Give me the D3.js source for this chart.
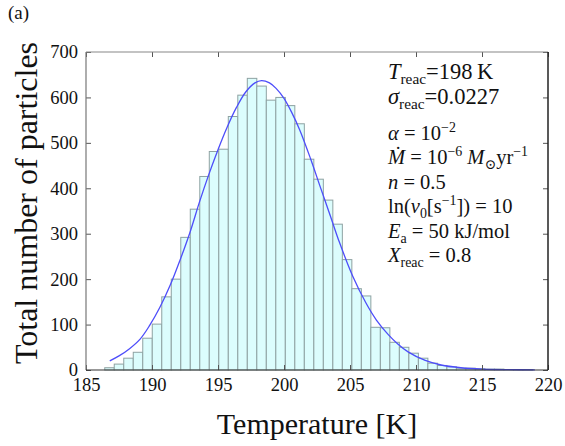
<!DOCTYPE html>
<html><head><meta charset="utf-8">
<script src="https://cdn.jsdelivr.net/npm/d3@7"></script>
<style>body{margin:0;background:#fff}svg{display:block}text{font-family:"Liberation Serif","Tinos","Times New Roman","DejaVu Serif",serif}</style>
</head><body><svg id="c" width="565" height="446"></svg>
<script>
// ---- data ----
const binStart = 186.42;
const binWidth = 0.72;
const counts = [5, 13, 26, 39, 70, 101, 161, 200, 292, 354, 426, 481, 486, 558, 605,
  642, 625, 594, 600, 582, 542, 464, 420, 374, 321, 243, 179, 163, 94, 93,
  61, 50, 37, 26, 15, 10, 7, 4, 4, 3, 2, 2, 1, 1, 1];
const curveT = [186.8, 187.5, 188.3, 189.1, 189.8, 190.6, 191.4, 192.1, 192.9, 193.6, 194.3,
  195.0, 195.7, 196.4, 197.1, 197.8, 198.3, 198.9, 199.4, 200.0, 200.6, 201.2, 202.0, 202.7,
  203.5, 204.2, 205.2, 206.2, 207.0, 207.9, 208.6, 209.4, 210.7, 211.9, 213.4, 215.0, 217.0, 219.0];
const curveV = [20, 31, 47, 68, 97, 138, 188, 240, 305, 370, 430,
  485, 535, 578, 612, 632, 637, 632, 620, 598, 566, 528, 466, 407,
  340, 281, 207, 148, 110, 78, 58, 40, 21, 11, 5, 2, 0.8, 0.3];
const xTicks = [185, 190, 195, 200, 205, 210, 215, 220];
const yTicks = [0, 100, 200, 300, 400, 500, 600, 700];

// ---- layout ----
const svg = d3.select("#c");
const L = 86, R = 548, T = 52, B = 370;
const serif = "Liberation Serif, Tinos, Times New Roman, DejaVu Serif, serif";
const x = d3.scaleLinear().domain([185, 220]).range([L, R]);
const y = d3.scaleLinear().domain([0, 700]).range([B, T]);

// bars
svg.append("g").selectAll("rect").data(counts).join("rect")
  .attr("x", (d, i) => x(binStart + i * binWidth))
  .attr("width", (d, i) => x(binStart + (i + 1) * binWidth) - x(binStart + i * binWidth))
  .attr("y", d => y(d))
  .attr("height", d => y(0) - y(d))
  .attr("fill", "#dcfdfd")
  .attr("stroke", "#8ea2a2")
  .attr("stroke-width", 1);

// curve
const pts = curveT.map((t, i) => [t, curveV[i]]);
svg.append("path").datum(pts)
  .attr("d", d3.line().x(d => x(d[0])).y(d => y(d[1])).curve(d3.curveCatmullRom.alpha(0.5)))
  .attr("fill", "none").attr("stroke", "#4d4dfa").attr("stroke-width", 1.3);

// axes
function styleAxis(g, labels) {
  g.attr("font-family", serif);
  g.select(".domain").remove();
  g.selectAll(".tick line").attr("stroke", "#555");
  g.selectAll("text").attr("font-family", serif).attr("font-size", 18.5).attr("fill", "#111");
  if (!labels) g.selectAll("text").remove();
}
svg.append("g").attr("transform", `translate(0,${B})`)
  .call(d3.axisBottom(x).tickValues(xTicks).tickSizeInner(-5).tickSizeOuter(0).tickPadding(8).tickFormat(d3.format("d")))
  .call(g => styleAxis(g, true));
svg.append("g").attr("transform", `translate(0,${T})`)
  .call(d3.axisTop(x).tickValues(xTicks).tickSizeInner(-5).tickSizeOuter(0))
  .call(g => styleAxis(g, false));
svg.append("g").attr("transform", `translate(${L},0)`)
  .call(d3.axisLeft(y).tickValues(yTicks).tickSizeInner(-5).tickSizeOuter(0).tickPadding(8).tickFormat(d3.format("d")))
  .call(g => styleAxis(g, true));
svg.append("g").attr("transform", `translate(${R},0)`)
  .call(d3.axisRight(y).tickValues(yTicks).tickSizeInner(-5).tickSizeOuter(0))
  .call(g => styleAxis(g, false));

// box
svg.append("line").attr("x1", L).attr("x2", R).attr("y1", T).attr("y2", T).attr("stroke", "#888").attr("stroke-width", 1.2);
svg.append("line").attr("x1", L).attr("x2", L).attr("y1", T).attr("y2", B).attr("stroke", "#777").attr("stroke-width", 1.2);
svg.append("line").attr("x1", L).attr("x2", R).attr("y1", B).attr("y2", B).attr("stroke", "#333").attr("stroke-width", 1.2);
svg.append("line").attr("x1", R).attr("x2", R).attr("y1", T).attr("y2", B).attr("stroke", "#222").attr("stroke-width", 1.5);

// titles
svg.append("text").attr("x", (L + R) / 2).attr("y", 434).attr("text-anchor", "middle")
  .attr("font-family", serif).attr("font-size", 30).attr("fill", "#111").text("Temperature [K]");
svg.append("text").attr("transform", `translate(37,${(T + B) / 2 - 8}) rotate(-90)`).attr("text-anchor", "middle")
  .attr("font-family", serif).attr("font-size", 32).attr("fill", "#111").text("Total number of particles");
svg.append("text").attr("x", 8).attr("y", 19).attr("font-family", serif).attr("font-size", 19)
  .attr("fill", "#111").text("(a)");

// annotations
function rich(xp, yp, size, parts) {
  const t = svg.append("text").attr("x", xp).attr("y", yp).attr("font-family", serif)
    .attr("font-size", size).attr("fill", "#111");
  let shift = 0;
  parts.forEach(p => {
    const s = t.append("tspan").text(p.t);
    let target = 0, fs = size;
    if (p.sub) { target = size * 0.22; fs = size * 0.68; }
    if (p.sup) { target = -size * 0.38; fs = size * 0.68; }
    s.attr("dy", target - shift).attr("font-size", fs);
    shift = target;
    if (p.i) s.attr("font-style", "italic");
  });
}
rich(388, 79, 22.5, [{t: "T", i: 1}, {t: "reac", sub: 1}, {t: "=198\u2009K"}]);
rich(388, 104, 22.5, [{t: "σ", i: 1}, {t: "reac", sub: 1}, {t: "=0.0227"}]);
rich(388, 140, 20.5, [{t: "α", i: 1}, {t: " = 10"}, {t: "−2", sup: 1}]);
rich(388, 164, 20.5, [{t: "Ṁ", i: 1}, {t: " = 10"}, {t: "−6", sup: 1}, {t: " "}, {t: "M", i: 1}, {t: "⊙", sub: 1}, {t: "yr"}, {t: "−1", sup: 1}]);
rich(388, 189, 20.5, [{t: "n", i: 1}, {t: " = 0.5"}]);
rich(388, 213, 20.5, [{t: "ln("}, {t: "ν", i: 1}, {t: "0", sub: 1}, {t: "[s"}, {t: "−1", sup: 1}, {t: "]) = 10"}]);
rich(388, 238, 20.5, [{t: "E", i: 1}, {t: "a", sub: 1}, {t: " = 50 kJ/mol"}]);
rich(388, 262, 20.5, [{t: "X", i: 1}, {t: "reac", sub: 1}, {t: " = 0.8"}]);
</script>
</body></html>
